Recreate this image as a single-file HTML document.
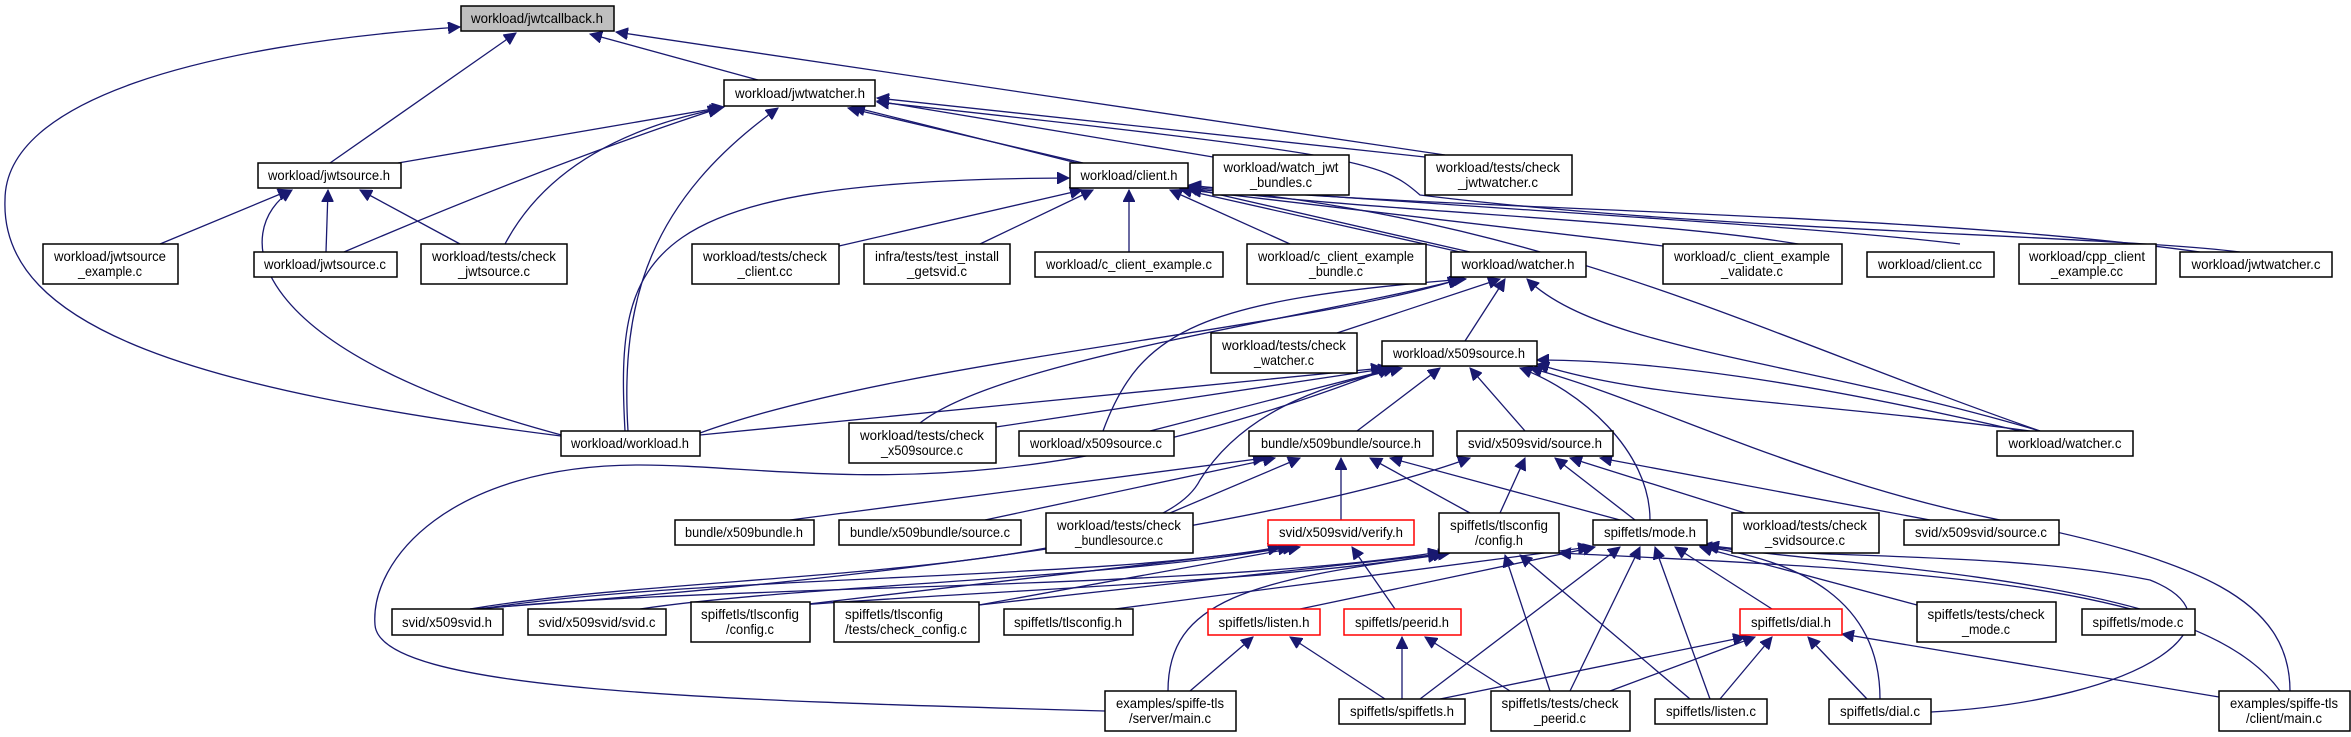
<!DOCTYPE html>
<html><head><meta charset="utf-8"><style>
html,body{margin:0;padding:0;background:#fff;width:2351px;height:737px;overflow:hidden}
svg{display:block}
text{font-family:"Liberation Sans",sans-serif;font-size:14px;fill:#000}
.n{fill:#fff;stroke:#000;stroke-width:1.5}
.r{fill:#fff;stroke:#f00;stroke-width:1.5}
.e{fill:none;stroke:#191970;stroke-width:1.3}
</style></head><body>
<svg width="2351" height="737" viewBox="0 0 2351 737" xmlns="http://www.w3.org/2000/svg">
<defs><marker id="a" markerUnits="userSpaceOnUse" markerWidth="14" markerHeight="12" refX="12" refY="6" orient="auto"><path d="M0,0 L12,6 L0,12 z" fill="#191970" stroke="#191970"/></marker></defs>
<g class="e" marker-end="url(#a)">
<path d="M330,163 L516,33"/>
<path d="M758,80 L590,34"/>
<path d="M1445,155 L616,32"/>
<path d="M561,436 C 200,390 0,330 5,200 C 5,100 200,45 460,27"/>
<path d="M398,163 L724,107"/>
<path d="M344,252 Q 560,160 720,108"/>
<path d="M505,244 Q 560,140 722,108"/>
<path d="M628,431 C 620,300 650,200 778,108"/>
<path d="M1083,163 L848,108"/>
<path d="M1077,163 L853,107"/>
<path d="M1213,157 L877,101"/>
<path d="M1425,157 L877,98"/>
<path d="M2240,252 C 2100,235 1700,230 1420,195 C 1380,160 1360,155 877,102"/>
<path d="M160,244 L290,190"/>
<path d="M326,252 L328,190"/>
<path d="M460,244 L360,190"/>
<path d="M565,436 C 240,350 230,230 292,190"/>
<path d="M625,431 C 615,250 640,180 1069,178"/>
<path d="M839,246 L1082,190"/>
<path d="M980,244 L1093,190"/>
<path d="M1129,252 L1129,190"/>
<path d="M1290,244 L1170,190"/>
<path d="M1460,252 L1180,189"/>
<path d="M1470,252 L1186,187"/>
<path d="M1663,246 L1189,190"/>
<path d="M1840,252 C 1700,220 1400,215 1189,188"/>
<path d="M1960,244 C 1800,225 1500,210 1189,186"/>
<path d="M2200,252 C 1900,210 1400,210 1189,185"/>
<path d="M2040,431 C 1750,330 1550,220 1189,187"/>
<path d="M700,433 C 900,360 1300,330 1460,279"/>
<path d="M920,423 C 1000,360 1300,320 1462,279"/>
<path d="M1103,431 C 1140,330 1200,300 1466,279"/>
<path d="M1337,333 L1500,279"/>
<path d="M1465,341 L1505,279"/>
<path d="M2040,431 C 1800,360 1600,350 1527,279"/>
<path d="M700,435 L1383,368"/>
<path d="M996,427 L1390,368"/>
<path d="M1150,431 L1395,368"/>
<path d="M1357,431 L1440,368"/>
<path d="M1525,431 L1470,368"/>
<path d="M1650,520 C 1650,450 1580,390 1520,368"/>
<path d="M2020,431 C 1800,380 1650,360 1537,360"/>
<path d="M2030,431 C 1800,400 1650,400 1537,364"/>
<path d="M2290,691 C 2290,600 2200,560 2000,520 C 1800,480 1650,400 1530,368"/>
<path d="M1105,711 C 700,700 380,690 375,625 C 370,560 450,465 640,465 C 800,465 1000,520 1390,368"/>
<path d="M470,609 C 700,570 1150,580 1200,480 C 1250,400 1350,380 1402,368"/>
<path d="M790,520 L1265,458"/>
<path d="M985,520 L1275,458"/>
<path d="M1170,513 L1300,458"/>
<path d="M1341,520 L1341,458"/>
<path d="M1470,513 L1370,458"/>
<path d="M1620,520 L1390,458"/>
<path d="M470,609 C 900,580 1300,520 1470,458"/>
<path d="M1500,513 L1525,458"/>
<path d="M1635,520 L1555,458"/>
<path d="M1745,513 L1570,458"/>
<path d="M1930,520 L1600,458"/>
<path d="M480,609 C 700,575 1100,580 1280,547"/>
<path d="M640,609 C 800,585 1100,580 1290,547"/>
<path d="M800,605 L1295,547"/>
<path d="M979,605 L1300,547"/>
<path d="M1395,609 L1352,547"/>
<path d="M480,609 C 700,585 1200,590 1440,552"/>
<path d="M800,605 C 1000,590 1300,580 1445,553"/>
<path d="M979,605 L1450,553"/>
<path d="M1168,691 C 1168,600 1250,580 1440,555"/>
<path d="M1550,691 L1505,555"/>
<path d="M1690,699 L1520,555"/>
<path d="M2280,691 C 2200,580 1900,570 1559,553"/>
<path d="M1300,609 L1595,547"/>
<path d="M1115,609 L1590,547"/>
<path d="M1420,699 L1620,547"/>
<path d="M1570,691 L1640,547"/>
<path d="M1710,699 L1655,547"/>
<path d="M1772,609 L1675,547"/>
<path d="M1917,605 L1700,547"/>
<path d="M2140,609 C 2000,570 1800,560 1706,546"/>
<path d="M1880,699 C 1880,600 1800,560 1700,546"/>
<path d="M1931,712 C 2150,700 2250,620 2150,580 C 2000,550 1800,560 1707,545"/>
<path d="M1190,691 L1253,637"/>
<path d="M1385,699 L1290,637"/>
<path d="M1402,699 L1402,637"/>
<path d="M1510,691 L1425,637"/>
<path d="M1440,699 L1745,637"/>
<path d="M1610,691 L1755,637"/>
<path d="M1720,699 L1772,637"/>
<path d="M1867,699 L1808,637"/>
<path d="M2219,697 L1842,634"/>
</g>
<g>
<rect x="461" y="6" width="153" height="25" fill="#bfbfbf" stroke="#000" stroke-width="1.5"/><text x="537" y="23" text-anchor="middle" textLength="132" lengthAdjust="spacingAndGlyphs">workload/jwtcallback.h</text>
<rect class="n" x="724" y="80" width="151" height="26"/><text x="800" y="98" text-anchor="middle" textLength="130" lengthAdjust="spacingAndGlyphs">workload/jwtwatcher.h</text>
<rect class="n" x="258" y="163" width="143" height="25"/><text x="329" y="180" text-anchor="middle" textLength="122" lengthAdjust="spacingAndGlyphs">workload/jwtsource.h</text>
<rect class="n" x="43" y="244" width="135" height="40"/><text x="110" y="261" text-anchor="middle" textLength="112" lengthAdjust="spacingAndGlyphs">workload/jwtsource</text><text x="110" y="276" text-anchor="middle" textLength="64" lengthAdjust="spacingAndGlyphs">_example.c</text>
<rect class="n" x="254" y="252" width="143" height="25"/><text x="325" y="269" text-anchor="middle" textLength="122" lengthAdjust="spacingAndGlyphs">workload/jwtsource.c</text>
<rect class="n" x="421" y="244" width="146" height="40"/><text x="494" y="261" text-anchor="middle" textLength="124" lengthAdjust="spacingAndGlyphs">workload/tests/check</text><text x="494" y="276" text-anchor="middle" textLength="72" lengthAdjust="spacingAndGlyphs">_jwtsource.c</text>
<rect class="n" x="692" y="244" width="147" height="40"/><text x="765" y="261" text-anchor="middle" textLength="124" lengthAdjust="spacingAndGlyphs">workload/tests/check</text><text x="765" y="276" text-anchor="middle" textLength="55" lengthAdjust="spacingAndGlyphs">_client.cc</text>
<rect class="n" x="864" y="244" width="146" height="40"/><text x="937" y="261" text-anchor="middle" textLength="124" lengthAdjust="spacingAndGlyphs">infra/tests/test_install</text><text x="937" y="276" text-anchor="middle" textLength="60" lengthAdjust="spacingAndGlyphs">_getsvid.c</text>
<rect class="n" x="1035" y="252" width="188" height="25"/><text x="1129" y="269" text-anchor="middle" textLength="166" lengthAdjust="spacingAndGlyphs">workload/c_client_example.c</text>
<rect class="n" x="1247" y="244" width="179" height="40"/><text x="1336" y="261" text-anchor="middle" textLength="156" lengthAdjust="spacingAndGlyphs">workload/c_client_example</text><text x="1336" y="276" text-anchor="middle" textLength="54" lengthAdjust="spacingAndGlyphs">_bundle.c</text>
<rect class="n" x="1070" y="163" width="118" height="25"/><text x="1129" y="180" text-anchor="middle" textLength="97" lengthAdjust="spacingAndGlyphs">workload/client.h</text>
<rect class="n" x="1213" y="155" width="136" height="40"/><text x="1281" y="172" text-anchor="middle" textLength="115" lengthAdjust="spacingAndGlyphs">workload/watch_jwt</text><text x="1281" y="187" text-anchor="middle" textLength="62" lengthAdjust="spacingAndGlyphs">_bundles.c</text>
<rect class="n" x="1425" y="155" width="147" height="40"/><text x="1498" y="172" text-anchor="middle" textLength="124" lengthAdjust="spacingAndGlyphs">workload/tests/check</text><text x="1498" y="187" text-anchor="middle" textLength="80" lengthAdjust="spacingAndGlyphs">_jwtwatcher.c</text>
<rect class="n" x="1451" y="252" width="135" height="25"/><text x="1518" y="269" text-anchor="middle" textLength="113" lengthAdjust="spacingAndGlyphs">workload/watcher.h</text>
<rect class="n" x="1211" y="333" width="146" height="40"/><text x="1284" y="350" text-anchor="middle" textLength="124" lengthAdjust="spacingAndGlyphs">workload/tests/check</text><text x="1284" y="365" text-anchor="middle" textLength="60" lengthAdjust="spacingAndGlyphs">_watcher.c</text>
<rect class="n" x="1382" y="341" width="155" height="25"/><text x="1459" y="358" text-anchor="middle" textLength="132" lengthAdjust="spacingAndGlyphs">workload/x509source.h</text>
<rect class="n" x="1663" y="244" width="179" height="40"/><text x="1752" y="261" text-anchor="middle" textLength="156" lengthAdjust="spacingAndGlyphs">workload/c_client_example</text><text x="1752" y="276" text-anchor="middle" textLength="62" lengthAdjust="spacingAndGlyphs">_validate.c</text>
<rect class="n" x="1867" y="252" width="127" height="25"/><text x="1930" y="269" text-anchor="middle" textLength="104" lengthAdjust="spacingAndGlyphs">workload/client.cc</text>
<rect class="n" x="2019" y="244" width="137" height="40"/><text x="2087" y="261" text-anchor="middle" textLength="116" lengthAdjust="spacingAndGlyphs">workload/cpp_client</text><text x="2087" y="276" text-anchor="middle" textLength="72" lengthAdjust="spacingAndGlyphs">_example.cc</text>
<rect class="n" x="2180" y="252" width="152" height="25"/><text x="2256" y="269" text-anchor="middle" textLength="129" lengthAdjust="spacingAndGlyphs">workload/jwtwatcher.c</text>
<rect class="n" x="561" y="431" width="139" height="25"/><text x="630" y="448" text-anchor="middle" textLength="118" lengthAdjust="spacingAndGlyphs">workload/workload.h</text>
<rect class="n" x="675" y="520" width="139" height="25"/><text x="744" y="537" text-anchor="middle" textLength="118" lengthAdjust="spacingAndGlyphs">bundle/x509bundle.h</text>
<rect class="n" x="392" y="609" width="111" height="26"/><text x="447" y="627" text-anchor="middle" textLength="90" lengthAdjust="spacingAndGlyphs">svid/x509svid.h</text>
<rect class="n" x="528" y="609" width="138" height="26"/><text x="597" y="627" text-anchor="middle" textLength="117" lengthAdjust="spacingAndGlyphs">svid/x509svid/svid.c</text>
<rect class="n" x="691" y="602" width="119" height="40"/><text x="750" y="619" text-anchor="middle" textLength="98" lengthAdjust="spacingAndGlyphs">spiffetls/tlsconfig</text><text x="750" y="634" text-anchor="middle" textLength="48" lengthAdjust="spacingAndGlyphs">/config.c</text>
<rect class="n" x="849" y="423" width="147" height="40"/><text x="922" y="440" text-anchor="middle" textLength="124" lengthAdjust="spacingAndGlyphs">workload/tests/check</text><text x="922" y="455" text-anchor="middle" textLength="82" lengthAdjust="spacingAndGlyphs">_x509source.c</text>
<rect class="n" x="1019" y="431" width="155" height="25"/><text x="1096" y="448" text-anchor="middle" textLength="132" lengthAdjust="spacingAndGlyphs">workload/x509source.c</text>
<rect class="n" x="1249" y="431" width="184" height="25"/><text x="1341" y="448" text-anchor="middle" textLength="160" lengthAdjust="spacingAndGlyphs">bundle/x509bundle/source.h</text>
<rect class="n" x="1457" y="431" width="156" height="25"/><text x="1535" y="448" text-anchor="middle" textLength="134" lengthAdjust="spacingAndGlyphs">svid/x509svid/source.h</text>
<rect class="n" x="839" y="520" width="182" height="25"/><text x="930" y="537" text-anchor="middle" textLength="160" lengthAdjust="spacingAndGlyphs">bundle/x509bundle/source.c</text>
<rect class="n" x="1046" y="513" width="147" height="40"/><text x="1119" y="530" text-anchor="middle" textLength="124" lengthAdjust="spacingAndGlyphs">workload/tests/check</text><text x="1119" y="545" text-anchor="middle" textLength="88" lengthAdjust="spacingAndGlyphs">_bundlesource.c</text>
<rect class="r" x="1268" y="520" width="146" height="25"/><text x="1341" y="537" text-anchor="middle" textLength="124" lengthAdjust="spacingAndGlyphs">svid/x509svid/verify.h</text>
<rect class="n" x="1439" y="513" width="120" height="40"/><text x="1499" y="530" text-anchor="middle" textLength="98" lengthAdjust="spacingAndGlyphs">spiffetls/tlsconfig</text><text x="1499" y="545" text-anchor="middle" textLength="48" lengthAdjust="spacingAndGlyphs">/config.h</text>
<rect class="n" x="834" y="602" width="145" height="40"/><text x="845" y="619" textLength="98" lengthAdjust="spacingAndGlyphs">spiffetls/tlsconfig</text><text x="845" y="634" textLength="122" lengthAdjust="spacingAndGlyphs">/tests/check_config.c</text>
<rect class="n" x="1004" y="609" width="129" height="26"/><text x="1068" y="627" text-anchor="middle" textLength="108" lengthAdjust="spacingAndGlyphs">spiffetls/tlsconfig.h</text>
<rect class="r" x="1208" y="609" width="112" height="26"/><text x="1264" y="627" text-anchor="middle" textLength="91" lengthAdjust="spacingAndGlyphs">spiffetls/listen.h</text>
<rect class="r" x="1344" y="609" width="117" height="26"/><text x="1402" y="627" text-anchor="middle" textLength="94" lengthAdjust="spacingAndGlyphs">spiffetls/peerid.h</text>
<rect class="n" x="1105" y="691" width="131" height="40"/><text x="1170" y="708" text-anchor="middle" textLength="108" lengthAdjust="spacingAndGlyphs">examples/spiffe-tls</text><text x="1170" y="723" text-anchor="middle" textLength="82" lengthAdjust="spacingAndGlyphs">/server/main.c</text>
<rect class="n" x="1339" y="699" width="126" height="25"/><text x="1402" y="716" text-anchor="middle" textLength="104" lengthAdjust="spacingAndGlyphs">spiffetls/spiffetls.h</text>
<rect class="n" x="1997" y="431" width="136" height="25"/><text x="2065" y="448" text-anchor="middle" textLength="113" lengthAdjust="spacingAndGlyphs">workload/watcher.c</text>
<rect class="n" x="1593" y="520" width="114" height="25"/><text x="1650" y="537" text-anchor="middle" textLength="92" lengthAdjust="spacingAndGlyphs">spiffetls/mode.h</text>
<rect class="n" x="1732" y="513" width="147" height="40"/><text x="1805" y="530" text-anchor="middle" textLength="124" lengthAdjust="spacingAndGlyphs">workload/tests/check</text><text x="1805" y="545" text-anchor="middle" textLength="80" lengthAdjust="spacingAndGlyphs">_svidsource.c</text>
<rect class="n" x="1904" y="520" width="155" height="25"/><text x="1981" y="537" text-anchor="middle" textLength="132" lengthAdjust="spacingAndGlyphs">svid/x509svid/source.c</text>
<rect class="r" x="1740" y="609" width="102" height="26"/><text x="1791" y="627" text-anchor="middle" textLength="80" lengthAdjust="spacingAndGlyphs">spiffetls/dial.h</text>
<rect class="n" x="1917" y="602" width="139" height="40"/><text x="1986" y="619" text-anchor="middle" textLength="117" lengthAdjust="spacingAndGlyphs">spiffetls/tests/check</text><text x="1986" y="634" text-anchor="middle" textLength="48" lengthAdjust="spacingAndGlyphs">_mode.c</text>
<rect class="n" x="2082" y="609" width="113" height="26"/><text x="2138" y="627" text-anchor="middle" textLength="91" lengthAdjust="spacingAndGlyphs">spiffetls/mode.c</text>
<rect class="n" x="1491" y="691" width="139" height="40"/><text x="1560" y="708" text-anchor="middle" textLength="117" lengthAdjust="spacingAndGlyphs">spiffetls/tests/check</text><text x="1560" y="723" text-anchor="middle" textLength="52" lengthAdjust="spacingAndGlyphs">_peerid.c</text>
<rect class="n" x="1655" y="699" width="112" height="25"/><text x="1711" y="716" text-anchor="middle" textLength="90" lengthAdjust="spacingAndGlyphs">spiffetls/listen.c</text>
<rect class="n" x="1829" y="699" width="102" height="25"/><text x="1880" y="716" text-anchor="middle" textLength="80" lengthAdjust="spacingAndGlyphs">spiffetls/dial.c</text>
<rect class="n" x="2219" y="691" width="131" height="40"/><text x="2284" y="708" text-anchor="middle" textLength="108" lengthAdjust="spacingAndGlyphs">examples/spiffe-tls</text><text x="2284" y="723" text-anchor="middle" textLength="76" lengthAdjust="spacingAndGlyphs">/client/main.c</text>
</g>
</svg>
</body></html>
